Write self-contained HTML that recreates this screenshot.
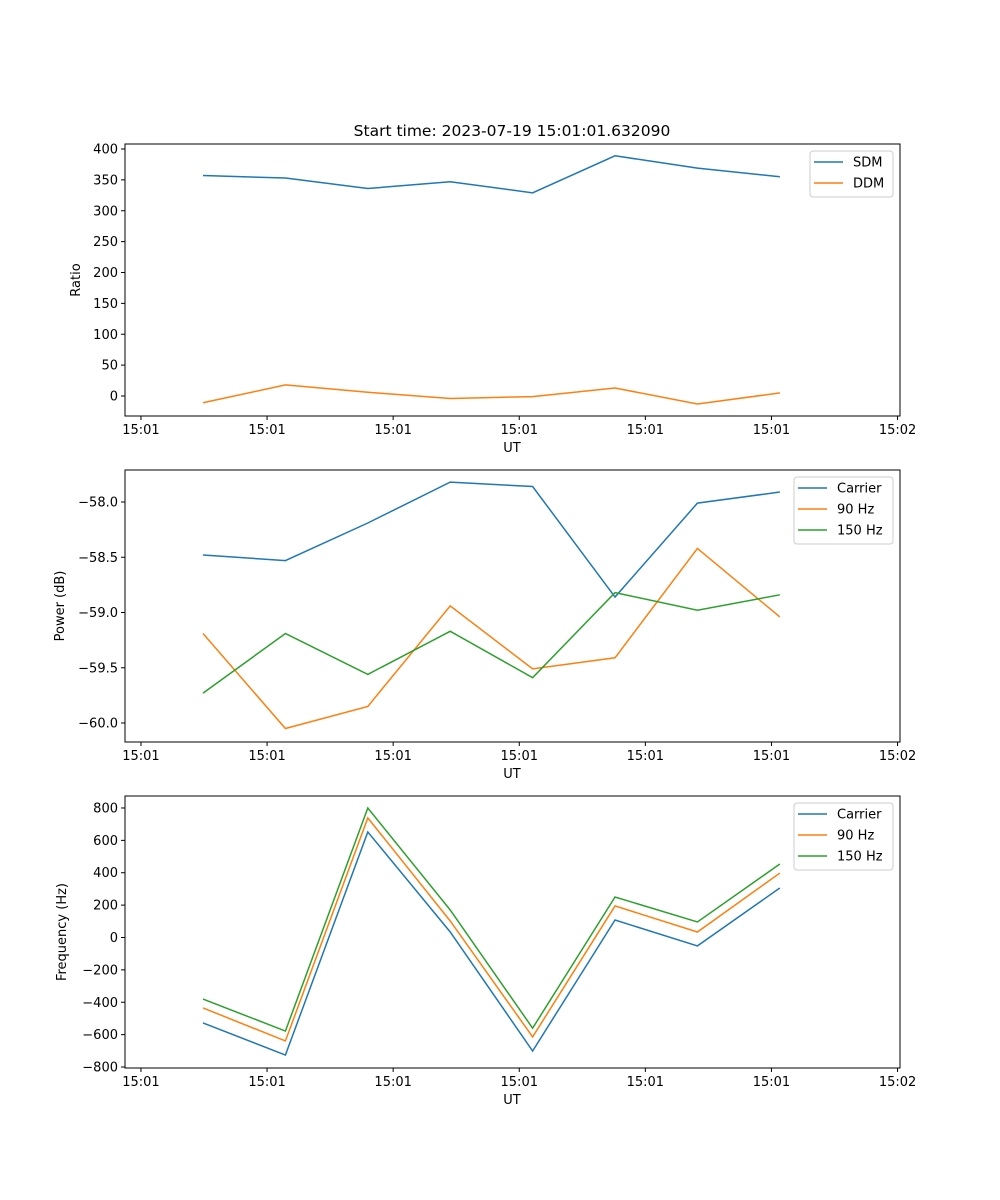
<!DOCTYPE html>
<html><head><meta charset="utf-8"><style>
body{margin:0;background:#fff}
svg{display:block;font-family:"DejaVu Sans","Liberation Sans",sans-serif}
</style></head><body>
<svg id="chart" width="1000" height="1200" viewBox="0 0 1000 1200"></svg>
<script>
const times=[0,0.6535,1.307,1.9605,2.614,3.2675,3.921,4.5745];
const xTicks=[-0.492,0.508,1.508,2.508,3.508,4.508,5.508];
const xTickLabels=["15:01","15:01","15:01","15:01","15:01","15:01","15:02"];
const sdm=[357,353,336,347,329,389,369,355];
const ddm=[-11,18,6,-4,-1,13,-13,5];
const pCarrier=[-58.48,-58.53,-58.19,-57.82,-57.86,-58.86,-58.01,-57.91];
const p90=[-59.19,-60.05,-59.85,-58.94,-59.51,-59.41,-58.42,-59.04];
const p150=[-59.73,-59.19,-59.56,-59.17,-59.59,-58.82,-58.98,-58.84];
const fCarrier=[-528,-726,652,34,-701,108,-52,306];
const f90=[-435,-639,739,102,-614,195,34,398];
const f150=[-380,-578,800,170,-560,250,96,454];
const yTicks1=[0,50,100,150,200,250,300,350,400];
const yTicks2=[-60.0,-59.5,-59.0,-58.5,-58.0];
const yTicks3=[-800,-600,-400,-200,0,200,400,600,800];
const C1="#1f77b4",C2="#ff7f0e",C3="#2ca02c";
const svg=document.getElementById('chart');
const NS="http://www.w3.org/2000/svg";
function el(tag,attrs,parent){const e=document.createElementNS(NS,tag);for(const k in attrs)e.setAttribute(k,attrs[k]);(parent||svg).appendChild(e);return e;}
const L=125,R=900;
const xs=t=>203+t*126.1;
function panel(name,top,bot,yFn,yticks,fmt,ylabel,series,legend){
  const g=el('g',{});
  
  
  series.forEach(s=>{
    const p=el('polyline',{points:s.v.map((v,i)=>xs(times[i])+','+yFn(v)).join(' '),fill:'none',stroke:s.c,'stroke-width':1.5},g);
    
    
  });
  const fr=el('rect',{x:L,y:top,width:R-L,height:bot-top,fill:'none',stroke:'#000','stroke-width':1},g);
  
  
  xTicks.forEach((t,i)=>{
    el('line',{x1:xs(t),x2:xs(t),y1:bot,y2:bot+4,stroke:'#000'},g);
    const tx=el('text',{x:xs(t),y:bot+18,'font-size':13,'text-anchor':'middle'},g);
    tx.textContent=xTickLabels[i];
    
    
  });
  yticks.forEach(v=>{
    el('line',{x1:L-4,x2:L,y1:yFn(v),y2:yFn(v),stroke:'#000'},g);
    const tx=el('text',{x:L-7,y:yFn(v)+4.5,'font-size':13,'text-anchor':'end'},g);
    tx.textContent=fmt(v);
    
    
  });
  const xl=el('text',{x:512,y:bot+36,'font-size':13,'text-anchor':'middle'},g);
  xl.textContent='UT';
  
  
  const cy=(top+bot)/2, lx=ylabel.x;
  const yl=el('text',{x:lx,y:cy,'font-size':13,'text-anchor':'middle',transform:`rotate(-90 ${lx} ${cy})`},g);
  yl.textContent=ylabel.t;
  
  
  const lg=el('g',{},g);
  
  
  el('rect',{x:legend.x,y:top+7,width:R-7-legend.x,height:4+series.length*21,rx:3,fill:'#fff','fill-opacity':0.8,stroke:'#ccc'},lg);
  series.forEach((s,i)=>{
    const yy=top+18+i*21;
    el('line',{x1:legend.x+4,x2:legend.x+33,y1:yy,y2:yy,stroke:s.c,'stroke-width':1.5},lg);
    const tx=el('text',{x:legend.x+43,y:yy+4.5,'font-size':13},lg);
    tx.textContent=s.label;
    
    
  });
}
const t=el('text',{x:512,y:136,'font-size':15.5,'text-anchor':'middle'});
t.textContent='Start time: 2023-07-19 15:01:01.632090';


panel('ratio-panel',144,416,v=>396-v*0.6175,yTicks1,v=>String(v),{x:80,t:'Ratio'},
  [{v:sdm,c:C1,n:'sdm-line',label:'SDM'},{v:ddm,c:C2,n:'ddm-line',label:'DDM'}],{x:810});
panel('power-panel',470,742,v=>502+(-58-v)*110.5,yTicks2,v=>'\u2212'+Math.abs(v).toFixed(1),{x:64,t:'Power (dB)'},
  [{v:pCarrier,c:C1,n:'carrier-power-line',label:'Carrier'},{v:p90,c:C2,n:'90hz-power-line',label:'90 Hz'},{v:p150,c:C3,n:'150hz-power-line',label:'150 Hz'}],{x:794});
panel('frequency-panel',796,1068,v=>937.5-v*0.1619,yTicks3,v=>v<0?'\u2212'+Math.abs(v):String(v),{x:66,t:'Frequency (Hz)'},
  [{v:fCarrier,c:C1,n:'carrier-frequency-line',label:'Carrier'},{v:f90,c:C2,n:'90hz-frequency-line',label:'90 Hz'},{v:f150,c:C3,n:'150hz-frequency-line',label:'150 Hz'}],{x:794});
</script>
</body></html>
